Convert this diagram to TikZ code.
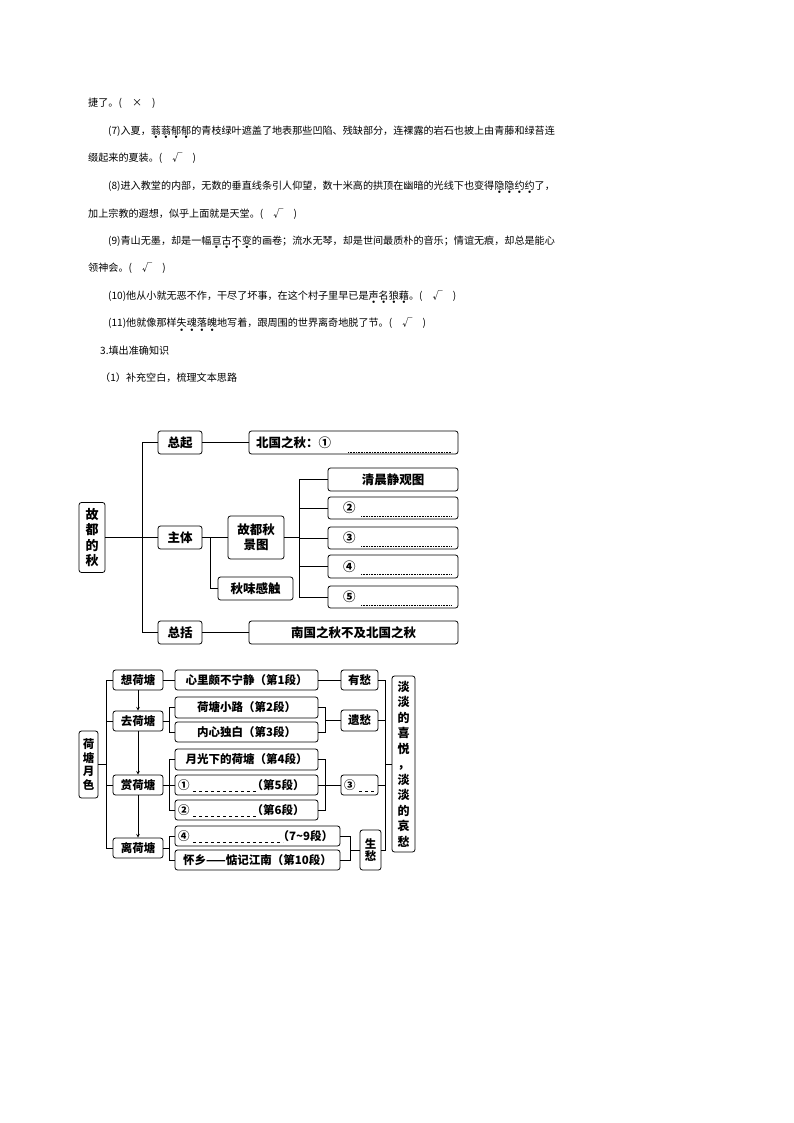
\documentclass[tikz,border=0pt]{standalone}
\usepackage{fontspec}
\setmainfont{Noto Sans CJK SC}
\newcommand\ed[1]{\setbox0\hbox{#1}\rlap{\box0}\setbox0\hbox{#1}\raisebox{-0.45em}[0pt][0pt]{\makebox[\wd0]{\fontsize{4}{4}\selectfont$\bullet$}}}
\tikzset{
 bx/.style={draw,rounded corners=2.5pt,line width=0.8pt,inner sep=0pt,font=\fontsize{12.5}{15}\selectfont\bfseries},
 sb/.style={bx,font=\fontsize{11.5}{13.5}\selectfont\bfseries},
 ln/.style={line width=0.8pt},
 para/.style={anchor=west,inner sep=0pt,font=\fontsize{10.1}{12}\selectfont},
 dl/.style={densely dotted,line width=0.6pt},
 dsh/.style={dashed,line width=0.6pt},
}
\begin{document}
\begin{tikzpicture}[x=1pt,y=-1pt]
\useasboundingbox (0,0) rectangle (794,1123);
% text
\node[para] (t0) at (88,103) {捷了。(\quad ×\quad )};
\node[para] (t1) at (108,131) {(7)入夏，\ed{蓊}\ed{蓊}\ed{郁}\ed{郁}的青枝绿叶遮盖了地表那些凹陷、残缺部分，连裸露的岩石也披上由青藤和绿苔连};
\node[para] (t2) at (88,158) {缀起来的夏装。(\quad √\quad )};
\node[para] (t3) at (108,186) {(8)进入教堂的内部，无数的垂直线条引人仰望，数十米高的拱顶在幽暗的光线下也变得\ed{隐}\ed{隐}\ed{约}\ed{约}了，};
\node[para] (t4) at (88,214) {加上宗教的遐想，似乎上面就是天堂。(\quad √\quad )};
\node[para] (t5) at (108,241) {(9)青山无墨，却是一幅\ed{亘}\ed{古}\ed{不}\ed{变}的画卷；流水无琴，却是世间最质朴的音乐；情谊无痕，却总是能心};
\node[para] (t6) at (88,268) {领神会。(\quad √\quad )};
\node[para] (t7) at (108,296) {(10)他从小就无恶不作，干尽了坏事，在这个村子里早已是\ed{声}\ed{名}\ed{狼}\ed{藉}。(\quad √\quad )};
\node[para] (t8) at (108,323) {(11)他就像那样\ed{失}\ed{魂}\ed{落}\ed{魄}地写着，跟周围的世界离奇地脱了节。(\quad √\quad )};
\node[para] (t9) at (100,351) {3.填出准确知识};
\node[para] (t10) at (100,378) {（1）补充空白，梳理文本思路};
% diagram 1
\node[bx,minimum width=26,minimum height=70,align=center,font=\fontsize{13}{15.5}\selectfont\bfseries] (gd) at (92,537.5) {故\\都\\的\\秋};
\node[bx,minimum width=44,minimum height=23] (zq) at (180,442.5) {总起};
\node[bx,minimum width=209,minimum height=23] (bg) at (353.5,442.5) {};
\node[anchor=west,inner sep=0,font=\fontsize{12.5}{15}\selectfont\bfseries] (bgt) at (256,442.5) {北国之秋：①};
\draw[dl] (348,452) -- (452,452);
\node[bx,minimum width=130,minimum height=23] (qc) at (393,479.5) {清晨静观图};
\node[bx,minimum width=130,minimum height=22] (c2) at (393,508) {};
\node[bx,minimum width=130,minimum height=22] (c3) at (393,538) {};
\node[bx,minimum width=130,minimum height=23] (c4) at (393,566.5) {};
\node[bx,minimum width=130,minimum height=22] (c5) at (393,597) {};
\foreach \n/\c/\y in {c2/②/508,c3/③/538,c4/④/566.5,c5/⑤/597}{
 \node[anchor=west,inner sep=0,font=\fontsize{12.5}{15}\selectfont\bfseries] (\n t) at (343,\y) {\c};
 \draw[dl] (361,\y+8) -- (452,\y+8);}
\node[bx,minimum width=44,minimum height=23] (zt) at (180,537.5) {主体};
\node[bx,minimum width=56,minimum height=43,align=center] (gj) at (256,537.5) {故都秋\\景图};
\node[bx,minimum width=75,minimum height=23] (qw) at (255.5,588.5) {秋味感触};
\node[bx,minimum width=44,minimum height=23] (zk) at (180,632.5) {总括};
\node[bx,minimum width=209,minimum height=23] (ng) at (353.5,632.5) {南国之秋不及北国之秋};
\draw[ln] (gd.east) -- (zt.west);
\draw[ln] (zq.west) -- ++(-15,0) |- (zk.west);
\draw[ln] (zq.east) -- (bg.west);
\draw[ln] (zk.east) -- (ng.west);
\draw[ln] (zt.east) -- (gj.west);
\draw[ln] (210,537.5) |- (qw.west);
\draw[ln] (gj.east) -- (300,537.5);
\draw[ln] (qc.west) -- ++(-28,0) |- (c5.west);
\draw[ln] (300,508) -- (c2.west);
\draw[ln] (300,538) -- (c3.west);
\draw[ln] (300,566.5) -- (c4.west);
% diagram 2
\node[sb,minimum width=19,minimum height=67,align=center] (hy) at (88.5,764.5) {荷\\塘\\月\\色};
\node[sb,minimum width=50,minimum height=20] (x1) at (138,680) {想荷塘};
\node[sb,minimum width=50,minimum height=20] (x2) at (138,721) {去荷塘};
\node[sb,minimum width=50,minimum height=20] (x3) at (138,785) {赏荷塘};
\node[sb,minimum width=50,minimum height=20] (x4) at (138,848) {离荷塘};
\draw[ln] (hy.east) -- (106,764.5);
\draw[ln] (x1.west) -- (106,680) -- (106,848) -- (x4.west);
\draw[ln] (106,721) -- (x2.west);
\draw[ln] (106,785) -- (x3.west);
\draw[->,>=stealth,line width=0.6pt] (x1.south) -- (x2.north);
\draw[->,>=stealth,line width=0.6pt] (x2.south) -- (x3.north);
\draw[->,>=stealth,line width=0.6pt] (x3.south) -- (x4.north);
\node[sb,minimum width=143,minimum height=20] (a1) at (246.5,680) {心里颇不宁静（第1段）};
\node[sb,minimum width=143,minimum height=21] (a2) at (246.5,707.5) {荷塘小路（第2段）};
\node[sb,minimum width=143,minimum height=20] (a3) at (246.5,732) {内心独白（第3段）};
\node[sb,minimum width=143,minimum height=21] (a4) at (246.5,759.5) {月光下的荷塘（第4段）};
\node[sb,minimum width=143,minimum height=20] (a5) at (246.5,785) {};
\node[sb,minimum width=143,minimum height=20] (a6) at (246.5,810) {};
\node[anchor=west,inner sep=0,font=\fontsize{11.5}{13.5}\selectfont\bfseries] (a5t) at (178,785) {①\hspace{62pt}（第5段）};
\node[anchor=west,inner sep=0,font=\fontsize{11.5}{13.5}\selectfont\bfseries] (a6t) at (178,810) {②\hspace{62pt}（第6段）};
\draw[dsh] (193,791) -- (258,791);
\draw[dsh] (193,816) -- (258,816);
\node[sb,minimum width=165,minimum height=20] (a7) at (257.5,836) {};
\node[anchor=west,inner sep=0,font=\fontsize{11.5}{13.5}\selectfont\bfseries] (a7t) at (178,836) {④\hspace{88pt}（7\textasciitilde 9段）};
\draw[dsh] (193,842) -- (283,842);
\node[sb,minimum width=165,minimum height=20] (a8) at (257.5,860) {怀乡——惦记江南（第10段）};
\draw[ln] (x1.east) -- (a1.west);
\draw[ln] (a2.west) -- ++(-5,0) |- (a3.west); \draw[ln] (x2.east) -- (170,721);
\draw[ln] (a4.west) -- ++(-5,0) |- (a6.west); \draw[ln] (x3.east) -- (a5.west);
\draw[ln] (a7.west) -- ++(-5,0) |- (a8.west); \draw[ln] (x4.east) -- (170,848);
\node[sb,minimum width=37,minimum height=20] (b1) at (359.5,680) {有愁};
\node[sb,minimum width=37,minimum height=21] (b2) at (359.5,720.5) {遗愁};
\node[sb,minimum width=37,minimum height=20] (b3) at (359.5,785) {};
\node[anchor=west,inner sep=0,font=\fontsize{11.5}{13.5}\selectfont\bfseries] (b3t) at (344,785) {③};
\draw[dsh] (359,791) -- (375,791);
\node[sb,minimum width=21,minimum height=40,align=center,font=\fontsize{11.5}{12.5}\selectfont\bfseries] (b4) at (370.5,850) {生\\愁};
\draw[ln] (a1.east) -- (b1.west);
\draw[ln] (a2.east) -- ++(7,0) |- (a3.east); \draw[ln] (325,720.5) -- (b2.west);
\draw[ln] (a4.east) -- ++(7,0) |- (a6.east); \draw[ln] (a5.east) -- (b3.west);
\draw[ln] (a7.east) -- ++(10,0) |- (a8.east); \draw[ln] (350,850) -- (b4.west);
\node[sb,minimum width=23,minimum height=176,align=center,font=\fontsize{12}{15.5}\selectfont\bfseries] (dd) at (403.5,764) {淡\\淡\\的\\喜\\悦\\，\\淡\\淡\\的\\哀\\愁};
\draw[ln] (b1.east) -- (385,680) |- (b4.east);
\draw[ln] (b2.east) -- (385,720.5);
\draw[ln] (b3.east) -- (385,785);
\draw[ln] (385,764) -- (dd.west);
\end{tikzpicture}
\end{document}
